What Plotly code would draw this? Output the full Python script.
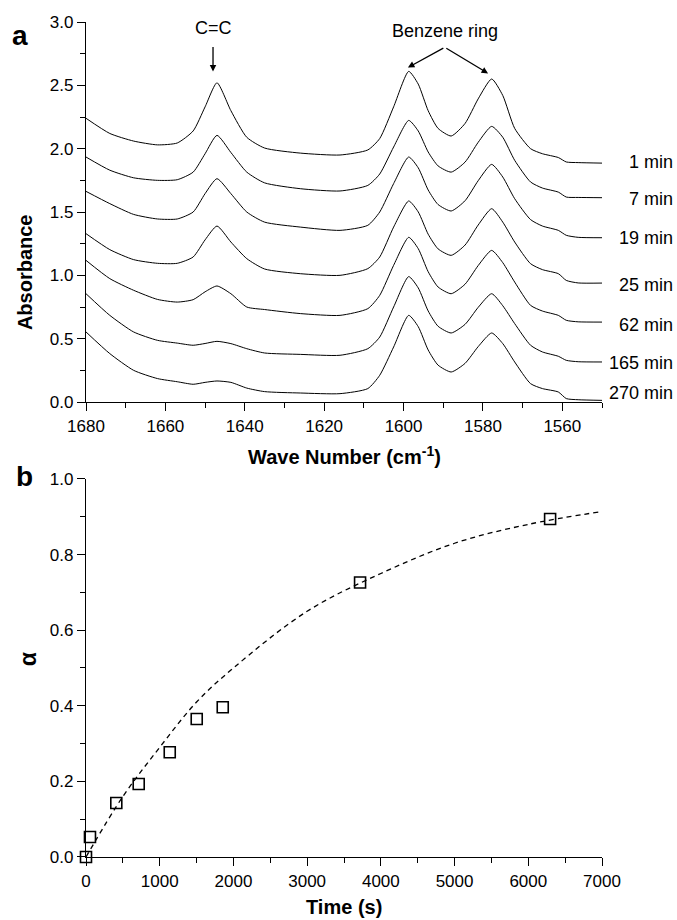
import plotly.graph_objects as go

# ---- panel a: FTIR spectra ----
wave = [1680, 1674, 1668, 1662, 1657, 1653, 1650, 1647, 1643.5, 1639.5, 1635, 1626,
        1616, 1609, 1606, 1602.5, 1598.7, 1596.3, 1593.8, 1591.3, 1588, 1584.5, 1581.2,
        1577.8, 1575, 1572, 1568, 1565, 1561, 1559, 1556, 1550]

abs_1min = [2.24, 2.12, 2.06, 2.03, 2.045, 2.14, 2.33, 2.52, 2.30, 2.09, 2.005, 1.965,
            1.95, 1.99, 2.08, 2.33, 2.61, 2.51, 2.30, 2.16, 2.10, 2.199, 2.393,
            2.55, 2.42, 2.16, 2.00, 1.96, 1.93, 1.895, 1.89, 1.886]
abs_7min = [1.934, 1.83, 1.77, 1.75, 1.755, 1.815, 1.96, 2.105, 1.97, 1.815, 1.73, 1.684,
            1.666, 1.71, 1.80, 2.013, 2.223, 2.14, 1.974, 1.864, 1.815, 1.894, 2.050,
            2.176, 2.09, 1.908, 1.737, 1.689, 1.657, 1.618, 1.615, 1.613]
abs_19min = [1.663, 1.566, 1.481, 1.445, 1.445, 1.50, 1.645, 1.763, 1.645, 1.50, 1.42, 1.381,
             1.355, 1.395, 1.50, 1.724, 1.934, 1.849, 1.674, 1.559, 1.508, 1.589, 1.747,
             1.876, 1.776, 1.605, 1.44, 1.389, 1.355, 1.316, 1.30, 1.297]
abs_25min = [1.329, 1.203, 1.124, 1.095, 1.095, 1.145, 1.28, 1.389, 1.263, 1.132, 1.05, 1.013,
             1.0, 1.053, 1.145, 1.381, 1.587, 1.501, 1.325, 1.209, 1.158, 1.239, 1.397,
             1.526, 1.42, 1.263, 1.092, 1.045, 1.013, 0.96, 0.94, 0.939]
abs_62min = [1.118, 0.974, 0.882, 0.81, 0.789, 0.808, 0.87, 0.916, 0.855, 0.75, 0.73, 0.698,
             0.684, 0.737, 0.842, 1.079, 1.30, 1.211, 1.029, 0.908, 0.855, 0.93, 1.077,
             1.197, 1.10, 0.947, 0.763, 0.718, 0.684, 0.645, 0.633, 0.631]
abs_165min = [0.855, 0.684, 0.553, 0.487, 0.465, 0.448, 0.462, 0.479, 0.461, 0.421, 0.387, 0.376,
              0.369, 0.421, 0.513, 0.75, 0.99, 0.901, 0.719, 0.598, 0.545, 0.613, 0.747,
              0.855, 0.76, 0.619, 0.448, 0.395, 0.361, 0.329, 0.318, 0.316]
abs_270min = [0.553, 0.382, 0.25, 0.185, 0.16, 0.14, 0.155, 0.166, 0.155, 0.11, 0.082, 0.071,
              0.066, 0.106, 0.211, 0.434, 0.684, 0.595, 0.411, 0.291, 0.237, 0.305, 0.437,
              0.545, 0.461, 0.316, 0.145, 0.106, 0.079, 0.027, 0.018, 0.013]

spectra = [abs_1min, abs_7min, abs_19min, abs_25min, abs_62min, abs_165min, abs_270min]
spec_labels = ["1 min", "7 min", "19 min", "25 min", "62 min", "165 min", "270 min"]

# ---- panel b: conversion vs time ----
time_s = [0, 54, 411, 715, 1136, 1502, 1855, 3718, 6296]
alpha = [0.0, 0.053, 0.143, 0.193, 0.277, 0.365, 0.396, 0.726, 0.894]

fit_time = [0, 500, 1000, 1500, 2000, 3000, 4000, 5000, 6000, 7000]
fit_alpha = [0.0, 0.16, 0.29, 0.41, 0.50, 0.65, 0.75, 0.83, 0.88, 0.914]

FONT = "Liberation Sans, Arial, sans-serif"
TOP_LO = 0.5449   # paper y of panel a bottom
BOT_HI = 0.4527   # paper y of panel b top

fig = go.Figure()

for ys in spectra:
    fig.add_trace(go.Scatter(x=wave, y=ys, mode="lines", line=dict(color="black", width=1),
                             line_shape="spline", line_smoothing=0.6,
                             xaxis="x", yaxis="y", showlegend=False))

fig.add_trace(go.Scatter(x=fit_time, y=fit_alpha, mode="lines", line_shape="spline",
                         line=dict(color="black", width=1.3, dash="5px,4px"),
                         xaxis="x2", yaxis="y2", showlegend=False))
fig.add_trace(go.Scatter(x=time_s, y=alpha, mode="markers",
                         marker=dict(symbol="square-open", size=11, color="black",
                                     line=dict(width=1.6)),
                         cliponaxis=False, xaxis="x2", yaxis="y2", showlegend=False))

axis_common = dict(showline=True, linecolor="black", linewidth=1.2, ticks="outside",
                   ticklen=8, tickwidth=1.2, tickcolor="black", showgrid=False,
                   zeroline=False, automargin=False,
                   tickfont=dict(size=17, color="black", family=FONT))

fig.update_layout(
    width=677, height=920,
    margin=dict(l=86, r=75, t=22, b=63),
    paper_bgcolor="white", plot_bgcolor="white",
    font=dict(family=FONT, color="black"),
    xaxis=dict(axis_common, range=[1680, 1550], dtick=20, domain=[0, 1], anchor="y",
               minor=dict(dtick=10, ticks="outside", ticklen=5, tickcolor="black")),
    yaxis=dict(axis_common, range=[0, 3], dtick=0.5, tickformat=".1f", domain=[TOP_LO, 1],
               anchor="x",
               minor=dict(dtick=0.25, ticks="outside", ticklen=5, tickcolor="black")),
    xaxis2=dict(axis_common, range=[0, 7000], dtick=1000, domain=[0, 1], anchor="y2",
                minor=dict(dtick=500, ticks="outside", ticklen=5, tickcolor="black")),
    yaxis2=dict(axis_common, range=[0, 1], dtick=0.2, tickformat=".1f", domain=[0, BOT_HI],
                anchor="x2",
                minor=dict(dtick=0.1, ticks="outside", ticklen=5, tickcolor="black")),
)

# axis titles
title_font = dict(size=20, color="black", family=FONT)
fig.add_annotation(x=0.5, y=TOP_LO, xref="paper", yref="paper", yshift=-53,
                   text="<b>Wave Number (cm<sup>-1</sup>)</b>", showarrow=False,
                   yanchor="middle", font=title_font)
fig.add_annotation(x=0.5, y=0, xref="paper", yref="paper", yshift=-50,
                   text="<b>Time (s)</b>", showarrow=False, yanchor="middle", font=title_font)
fig.add_annotation(x=-0.118, y=(TOP_LO + 1) / 2, xref="paper", yref="paper",
                   text="<b>Absorbance</b>", textangle=-90, showarrow=False,
                   xanchor="center", font=title_font)
fig.add_annotation(x=-0.112, y=BOT_HI / 2, xref="paper", yref="paper",
                   text="<b>α</b>", textangle=-90, showarrow=False,
                   xanchor="center", font=dict(size=23, color="black", family=FONT))

# curve labels on the right of panel a
label_y = [1.894, 1.605, 1.297, 0.921, 0.605, 0.308, 0.071]
for txt, yv in zip(spec_labels, label_y):
    fig.add_annotation(x=1.1415, y=yv, xref="paper", yref="y", text=txt, showarrow=False,
                       xanchor="right", font=dict(size=18, color="black"))

# peak assignments
fig.add_annotation(x=1648, y=2.95, xref="x", yref="y", text="C=C", showarrow=False,
                   font=dict(size=18, color="black"))
fig.add_annotation(x=1648, y=2.61, ax=1648, ay=2.815, xref="x", yref="y", axref="x",
                   ayref="y", text="", showarrow=True, arrowhead=2, arrowsize=1,
                   arrowwidth=1.3, arrowcolor="black")
fig.add_annotation(x=1589.6, y=2.93, xref="x", yref="y", text="Benzene ring",
                   showarrow=False, font=dict(size=18, color="black"))
for hx, hy in [(1598.9, 2.64), (1578.7, 2.594)]:
    fig.add_annotation(x=hx, y=hy, ax=1589.6, ay=2.80, xref="x", yref="y", axref="x",
                       ayref="y", text="", showarrow=True, arrowhead=2, arrowsize=1,
                       arrowwidth=1.3, arrowcolor="black")

# panel letters
fig.add_annotation(x=-0.128, y=1.0, xref="paper", yref="paper", yshift=4, text="<b>a</b>",
                   showarrow=False, font=dict(size=28, color="black"), xanchor="center")
fig.add_annotation(x=-0.12, y=BOT_HI, xref="paper", yref="paper", yshift=2, text="<b>b</b>",
                   showarrow=False, font=dict(size=28, color="black"), xanchor="center")

# the page's default body margin would shift the 677x920 figure out of the window
fig.write_html("out.html", config={"displayModeBar": False},
               post_script="document.body.style.margin='0';document.body.style.padding='0';")
